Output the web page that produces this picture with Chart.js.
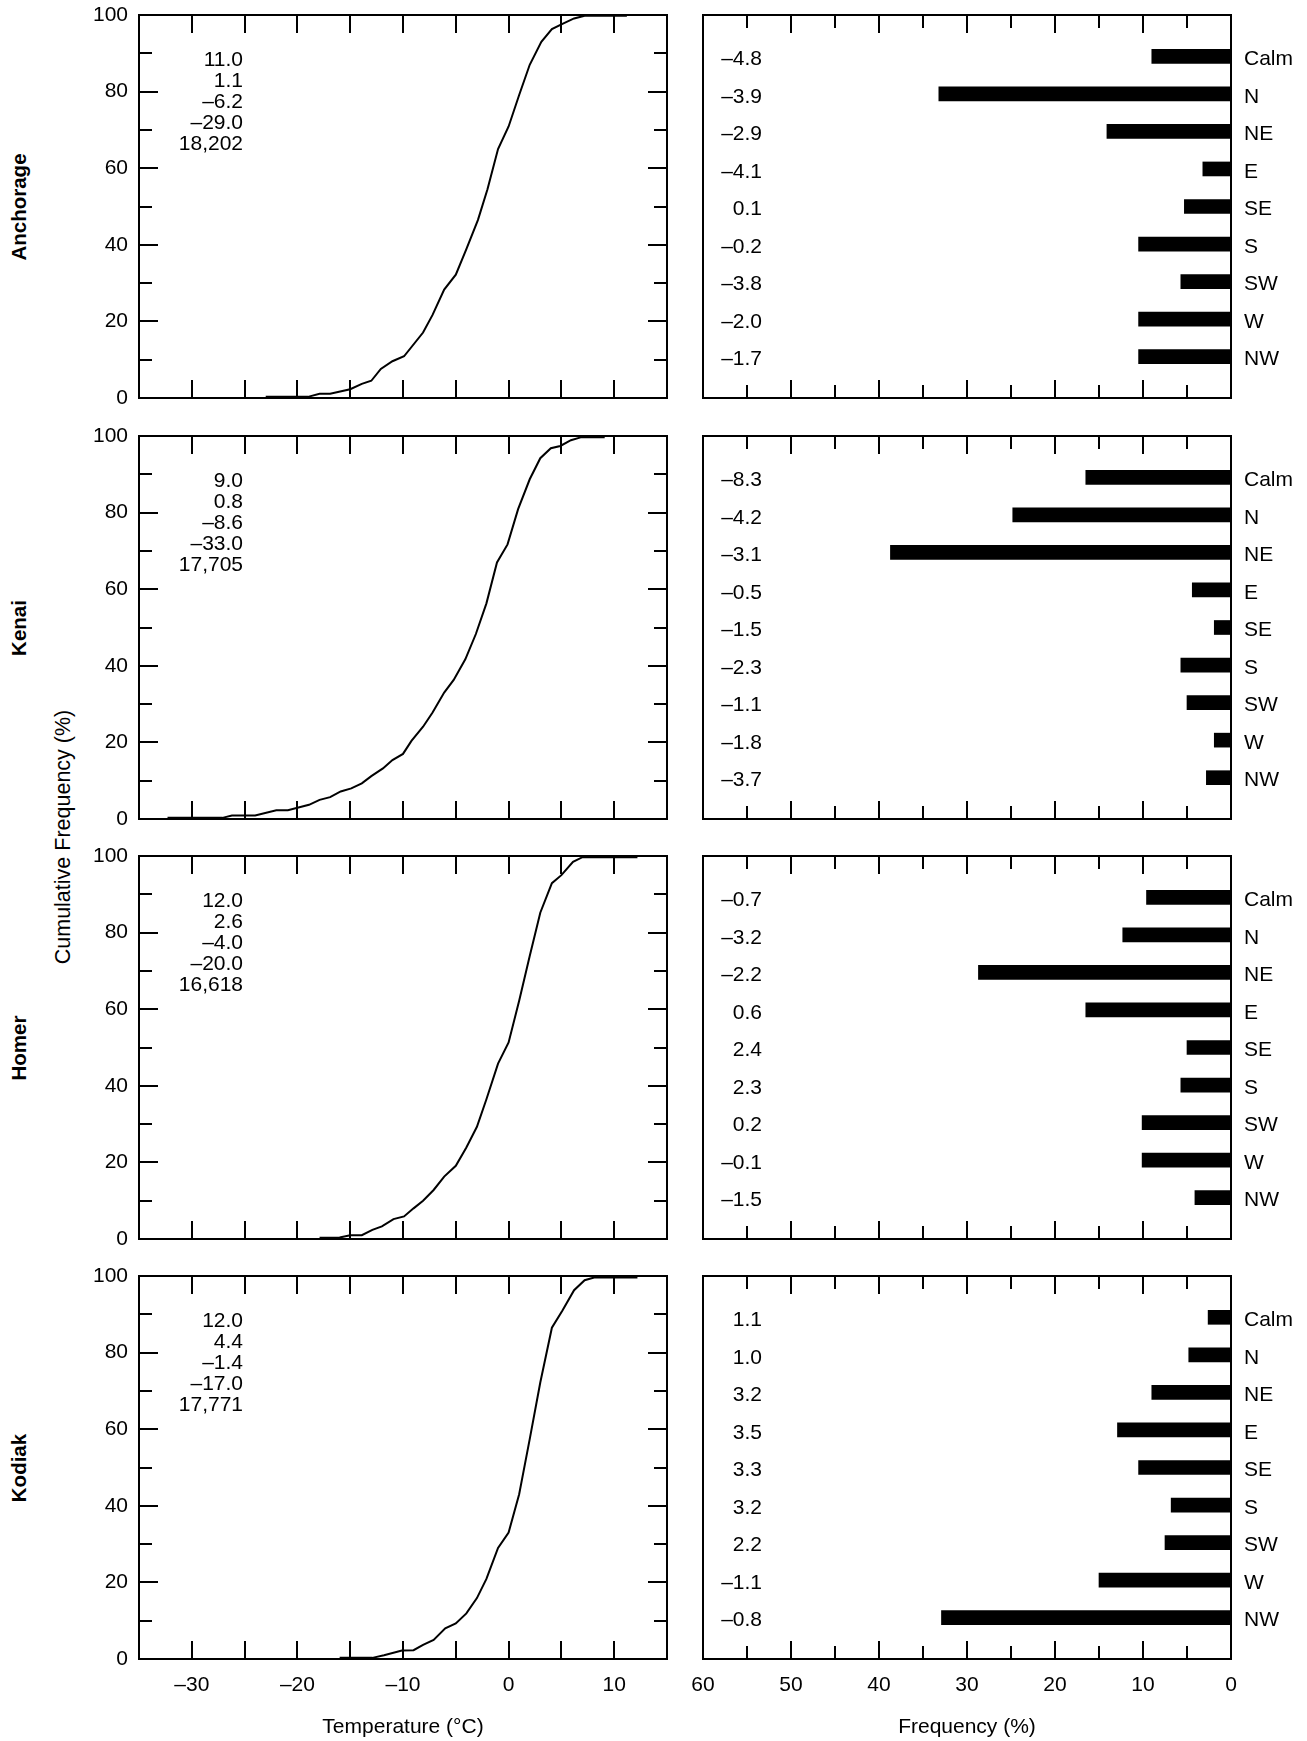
<!DOCTYPE html>
<html>
<head>
<meta charset="utf-8">
<script src="https://cdn.jsdelivr.net/npm/chart.js@4.4.1/dist/chart.umd.min.js"></script>
<style>
html,body{margin:0;padding:0;background:#fff;}
#wrap{position:relative;width:1307px;height:1741px;overflow:hidden;background:#fff;font-family:'Liberation Sans',Arial,Helvetica,sans-serif;color:#000;}
canvas{position:absolute;}
.vlab{position:absolute;transform:translate(-50%,-50%) rotate(-90deg);white-space:nowrap;color:#000;line-height:1;}
.station{font-weight:bold;font-size:20.5px;}
.ytitle{font-size:21.5px;}
</style>
</head>
<body>
<div id="wrap"></div>
<script>
// ---------------- DATA ----------------
const stations = ['Anchorage', 'Kenai', 'Homer', 'Kodiak'];
const directions = ['Calm', 'N', 'NE', 'E', 'SE', 'S', 'SW', 'W', 'NW'];
const dirPositions = [1, 2, 3, 4, 5, 6, 7, 8, 9];

const tempTicks = [-30, -20, -10, 0, 10];
const tempMinorTicks = [-30, -25, -20, -15, -10, -5, 0, 5, 10];
const cumTicks = [0, 20, 40, 60, 80, 100];
const cumMajorInner = [20, 40, 60, 80];
const cumMinorInner = [10, 30, 50, 70, 90];
const freqTicks = [60, 50, 40, 30, 20, 10, 0];
const freqMajorInner = [50, 40, 30, 20, 10];
const freqMinorInner = [55, 45, 35, 25, 15, 5];

// Cumulative temperature distributions (temperature °C, cumulative %)
const anchorageTemp = [-23.0, -19.0, -17.9, -16.9, -15.0, -13.9, -13.0, -12.1, -11.0, -9.9, -8.1, -7.2, -6.1, -5.0, -4.0, -2.9, -2.0, -1.0, 0.0, 1.0, 2.0, 3.1, 4.1, 5.1, 6.2, 7.2, 11.2];
const anchorageCum  = [0.3, 0.3, 1.1, 1.1, 2.3, 3.7, 4.5, 7.6, 9.6, 10.9, 17.1, 21.7, 28.3, 32.2, 38.9, 46.5, 54.5, 65.0, 70.9, 79.1, 87.0, 93.0, 96.3, 97.7, 99.1, 99.8, 99.8];

const kenaiTemp = [-32.3, -27.1, -26.2, -24.0, -22.0, -20.9, -18.9, -17.9, -16.9, -15.9, -14.9, -13.9, -13.0, -11.9, -11.0, -10.0, -9.2, -8.1, -7.2, -6.1, -5.2, -4.1, -3.1, -2.1, -1.1, -0.1, 0.9, 2.0, 3.0, 4.0, 4.9, 5.9, 6.9, 9.1];
const kenaiCum  = [0.3, 0.3, 0.9, 0.9, 2.3, 2.3, 3.7, 5.0, 5.7, 7.2, 8.0, 9.3, 11.2, 13.2, 15.4, 17.0, 20.4, 24.1, 27.8, 33.0, 36.3, 41.7, 48.3, 56.3, 67.0, 71.7, 80.9, 88.7, 94.2, 96.8, 97.4, 98.9, 99.7, 99.7];

const homerTemp = [-17.9, -16.0, -15.0, -13.9, -12.9, -12.0, -10.9, -9.9, -9.0, -8.1, -7.1, -6.1, -5.0, -4.0, -3.0, -2.1, -1.0, 0.0, 1.0, 2.0, 3.0, 4.1, 5.0, 6.1, 7.0, 12.2];
const homerCum  = [0.3, 0.4, 1.0, 1.0, 2.4, 3.3, 5.2, 5.9, 8.0, 10.0, 12.8, 16.3, 19.1, 23.9, 29.3, 36.5, 45.8, 51.3, 62.2, 73.9, 85.2, 92.9, 95.0, 98.5, 99.7, 99.7];

const kodiakTemp = [-16.0, -12.9, -11.8, -10.1, -9.0, -8.1, -7.1, -6.0, -5.0, -4.0, -3.0, -2.1, -1.0, 0.0, 1.0, 2.0, 3.0, 4.1, 5.1, 6.2, 7.2, 8.1, 12.2];
const kodiakCum  = [0.3, 0.3, 1.0, 2.2, 2.3, 3.7, 5.0, 8.0, 9.3, 11.9, 15.9, 20.9, 29.0, 33.0, 43.0, 57.4, 72.2, 86.5, 91.0, 96.3, 98.9, 99.6, 99.6];

// Summary statistics printed in each cumulative panel
const anchorageStats = ['11.0', '1.1', '–6.2', '–29.0', '18,202'];
const kenaiStats     = ['9.0', '0.8', '–8.6', '–33.0', '17,705'];
const homerStats     = ['12.0', '2.6', '–4.0', '–20.0', '16,618'];
const kodiakStats    = ['12.0', '4.4', '–1.4', '–17.0', '17,771'];

// Wind-direction frequency (%) and mean temperature by direction
const anchorageFreq = [9.0, 33.2, 14.1, 3.2, 5.3, 10.5, 5.7, 10.5, 10.5];
const kenaiFreq     = [16.5, 24.8, 38.7, 4.4, 1.9, 5.7, 5.0, 1.9, 2.8];
const homerFreq     = [9.6, 12.3, 28.7, 16.5, 5.0, 5.7, 10.1, 10.1, 4.1];
const kodiakFreq    = [2.6, 4.8, 9.0, 12.9, 10.5, 6.8, 7.5, 15.0, 32.9];

const anchorageDirTemp = ['–4.8', '–3.9', '–2.9', '–4.1', '0.1', '–0.2', '–3.8', '–2.0', '–1.7'];
const kenaiDirTemp     = ['–8.3', '–4.2', '–3.1', '–0.5', '–1.5', '–2.3', '–1.1', '–1.8', '–3.7'];
const homerDirTemp     = ['–0.7', '–3.2', '–2.2', '0.6', '2.4', '2.3', '0.2', '–0.1', '–1.5'];
const kodiakDirTemp    = ['1.1', '1.0', '3.2', '3.5', '3.3', '3.2', '2.2', '–1.1', '–0.8'];

const temps = [anchorageTemp, kenaiTemp, homerTemp, kodiakTemp];
const cums = [anchorageCum, kenaiCum, homerCum, kodiakCum];
const stats = [anchorageStats, kenaiStats, homerStats, kodiakStats];
const freqs = [anchorageFreq, kenaiFreq, homerFreq, kodiakFreq];
const dirTemps = [anchorageDirTemp, kenaiDirTemp, homerDirTemp, kodiakDirTemp];

// ---------------- LAYOUT ----------------
const FONT = "'Liberation Sans', Arial, Helvetica, sans-serif";
Chart.defaults.font.family = FONT;
Chart.defaults.color = '#000';

const wrap = document.getElementById('wrap');
const rowTops = [15, 436, 856, 1276];
const PH = 383;           // plot height
const PAD = 28;           // canvas padding above/below plot
const XAX = 82;           // bottom axis block height
const LEFT_CANVAS = {left: 80, width: 600, yAxisW: 59, padRight: 13};
const RIGHT_CANVAS = {left: 671, width: 636, padLeft: 32, yAxisW: 76};
const TICK_FONT = {family: FONT, size: 21};

function fmt(v) { return v < 0 ? '–' + Math.abs(v) : String(v); }

function makeCanvas(left, top, w, h) {
  const c = document.createElement('canvas');
  c.width = w; c.height = h;
  c.style.left = left + 'px'; c.style.top = top + 'px';
  c.style.width = w + 'px'; c.style.height = h + 'px';
  wrap.appendChild(c);
  return c;
}

function addVLabel(text, cls, x, y) {
  const d = document.createElement('div');
  d.className = 'vlab ' + cls;
  d.textContent = text;
  d.style.left = x + 'px';
  d.style.top = y + 'px';
  wrap.appendChild(d);
}

function decorPlugin(cfg) {
  return {
    id: 'decor',
    afterDatasetsDraw(chart) {
      const ctx = chart.ctx, a = chart.chartArea;
      const xs = chart.scales.x, ys = chart.scales.y;
      ctx.save();
      ctx.strokeStyle = '#000';
      ctx.lineWidth = 2;
      ctx.lineCap = 'butt';
      ctx.beginPath();
      cfg.xTicks.forEach(t => {
        t.values.forEach(v => {
          const px = Math.round(xs.getPixelForValue(v));
          ctx.moveTo(px, a.top); ctx.lineTo(px, a.top + t.len);
          ctx.moveTo(px, a.bottom); ctx.lineTo(px, a.bottom - t.len);
        });
      });
      (cfg.yTicks || []).forEach(t => {
        t.values.forEach(v => {
          const py = Math.round(ys.getPixelForValue(v));
          ctx.moveTo(a.left, py); ctx.lineTo(a.left + t.len, py);
          ctx.moveTo(a.right, py); ctx.lineTo(a.right - t.len, py);
        });
      });
      ctx.stroke();
      ctx.strokeRect(a.left, a.top, a.right - a.left, a.bottom - a.top);

      ctx.fillStyle = '#000';
      ctx.font = '21px ' + FONT;
      ctx.textAlign = 'right';
      ctx.textBaseline = 'middle';
      if (cfg.stats) {
        cfg.stats.forEach((s, i) => {
          ctx.fillText(s, a.left + 104, a.top + 45 + 21 * i);
        });
      }
      if (cfg.dirText) {
        cfg.dirText.forEach((s, i) => {
          ctx.fillText(s, a.left + 59, ys.getPixelForValue(dirPositions[i]) + 3);
        });
      }
      ctx.restore();
    }
  };
}

function makeLeft(r) {
  const isBottom = r === 3;
  const top = rowTops[r] - PAD;
  const h = PAD + PH + (isBottom ? XAX : PAD);
  const c = makeCanvas(LEFT_CANVAS.left, top, LEFT_CANVAS.width, h);
  new Chart(c, {
    type: 'line',
    data: {
      datasets: [{
        data: temps[r].map((t, i) => ({x: t, y: cums[r][i]})),
        borderColor: '#000', borderWidth: 2, pointRadius: 0, tension: 0, fill: false
      }]
    },
    options: {
      responsive: false, animation: false, events: [],
      layout: {padding: {left: 0, right: LEFT_CANVAS.padRight, top: PAD, bottom: isBottom ? 0 : PAD}},
      plugins: {legend: {display: false}, tooltip: {enabled: false}},
      scales: {
        x: {
          type: 'linear', min: -35, max: 15, display: isBottom,
          grid: {display: false, drawTicks: false}, border: {display: false},
          afterBuildTicks: s => { s.ticks = tempTicks.map(v => ({value: v})); },
          afterFit: s => { s.height = isBottom ? XAX : 0; },
          ticks: {padding: 14, font: TICK_FONT, color: '#000', autoSkip: false, maxRotation: 0, callback: v => fmt(v)},
          title: {display: true, text: 'Temperature (°C)', font: {size: 21}, color: '#000', padding: {top: 0, bottom: 1}}
        },
        y: {
          type: 'linear', min: 0, max: 100,
          grid: {display: false, drawTicks: false}, border: {display: false},
          afterBuildTicks: s => { s.ticks = cumTicks.map(v => ({value: v})); },
          afterFit: s => { s.width = LEFT_CANVAS.yAxisW; },
          ticks: {padding: 11, font: TICK_FONT, color: '#000', autoSkip: false, callback: v => fmt(v)}
        }
      }
    },
    plugins: [decorPlugin({
      xTicks: [{values: tempMinorTicks, len: 18}],
      yTicks: [{values: cumMajorInner, len: 19}, {values: cumMinorInner, len: 13}],
      stats: stats[r]
    })]
  });
}

function makeRight(r) {
  const isBottom = r === 3;
  const top = rowTops[r] - PAD;
  const h = PAD + PH + (isBottom ? XAX : PAD);
  const c = makeCanvas(RIGHT_CANVAS.left, top, RIGHT_CANVAS.width, h);
  new Chart(c, {
    type: 'bar',
    data: {
      datasets: [{
        data: freqs[r].map((f, i) => ({x: f, y: dirPositions[i]})),
        backgroundColor: '#000', borderWidth: 0, barThickness: 14
      }]
    },
    options: {
      indexAxis: 'y',
      responsive: false, animation: false, events: [],
      layout: {padding: {left: RIGHT_CANVAS.padLeft, right: 0, top: PAD, bottom: isBottom ? 0 : PAD}},
      plugins: {legend: {display: false}, tooltip: {enabled: false}},
      scales: {
        x: {
          type: 'linear', min: 0, max: 60, reverse: true, display: isBottom,
          grid: {display: false, drawTicks: false}, border: {display: false},
          afterBuildTicks: s => { s.ticks = freqTicks.map(v => ({value: v})); },
          afterFit: s => { s.height = isBottom ? XAX : 0; },
          ticks: {padding: 14, font: TICK_FONT, color: '#000', autoSkip: false, maxRotation: 0},
          title: {display: true, text: 'Frequency (%)', font: {size: 21}, color: '#000', padding: {top: 0, bottom: 1}}
        },
        y: {
          type: 'linear', min: -0.1, max: 10.1, reverse: true, position: 'right', offset: false,
          grid: {display: false, drawTicks: false, offset: false}, border: {display: false},
          afterBuildTicks: s => { s.ticks = dirPositions.map(v => ({value: v})); },
          afterFit: s => { s.width = RIGHT_CANVAS.yAxisW; },
          ticks: {padding: 13, labelOffset: 3, font: TICK_FONT, color: '#000', autoSkip: false,
                  callback: v => directions[dirPositions.indexOf(v)]}
        }
      }
    },
    plugins: [decorPlugin({
      xTicks: [{values: freqMajorInner, len: 18}, {values: freqMinorInner, len: 13}],
      dirText: dirTemps[r]
    })]
  });
}

for (let r = 0; r < 4; r++) {
  makeLeft(r);
  makeRight(r);
  addVLabel(stations[r], 'station', 19, rowTops[r] + PH / 2);
}
addVLabel('Cumulative Frequency (%)', 'ytitle', 64, 837);
</script>
</body>
</html>
